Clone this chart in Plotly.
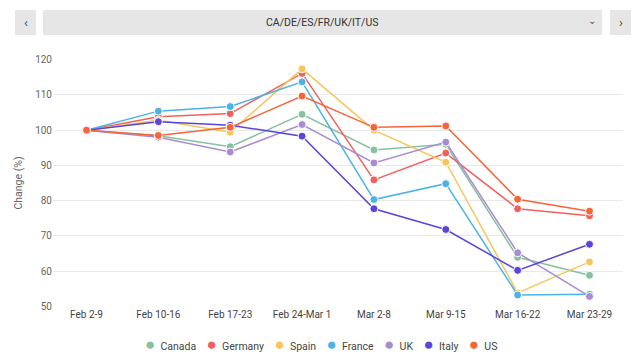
import plotly.graph_objects as go

weeks = ["Feb 2-9", "Feb 10-16", "Feb 17-23", "Feb 24-Mar 1", "Mar 2-8", "Mar 9-15", "Mar 16-22", "Mar 23-29"]

canada  = [100, 98.4, 95.3, 104.5, 94.4, 96.0, 63.9, 58.8]
germany = [100, 103.8, 104.7, 116.1, 85.9, 93.5, 77.7, 75.7]
spain   = [100, 102.8, 99.4, 117.4, 100.0, 90.9, 53.8, 62.6]
france  = [100, 105.4, 106.7, 113.7, 80.3, 84.8, 53.2, 53.4]
uk      = [100, 98.0, 93.8, 101.6, 90.7, 96.6, 65.2, 52.8]
italy   = [100, 102.4, 101.4, 98.3, 77.7, 71.8, 60.2, 67.6]
us      = [100, 98.5, 100.8, 109.7, 100.8, 101.2, 80.4, 77.0]

series_names = ["Canada", "Germany", "Spain", "France", "UK", "Italy", "US"]
series_values = [canada, germany, spain, france, uk, italy, us]
colors = ["#86c19f", "#f2605e", "#f6c65b", "#4db3e6", "#a98ccf", "#5b45d9", "#f7643a"]

y_ticks = [50, 60, 70, 80, 90, 100, 110, 120]
selector_label = "CA/DE/ES/FR/UK/IT/US"

fig = go.Figure()
for name, vals, col in zip(series_names, series_values, colors):
    fig.add_trace(go.Scatter(
        x=weeks, y=vals, name=name, mode="lines+markers",
        line=dict(color=col, width=1.5),
        marker=dict(color=col, size=8, line=dict(color="white", width=1)),
        showlegend=False,
    ))

W, H = 640, 361
L, R, T, B = 53, 17, 59, 54
pw, ph = W - L - R, H - T - B

def px(x):
    return (x - L) / pw

def py(y):
    return (H - B - y) / ph

shapes = []
for x0, x1 in [(15, 36), (43, 602), (610, 631)]:
    shapes.append(dict(type="rect", xref="paper", yref="paper",
                       x0=px(x0), x1=px(x1), y0=py(35), y1=py(10),
                       fillcolor="#e6e6e6", line=dict(width=0), layer="below"))

legend_text = "\u00a0\u00a0\u00a0\u00a0".join(
    f'<span style="color:{c};font-size:17px">●</span>\u00a0\u00a0{n}'
    for n, c in zip(series_names, colors)
)

annotations = [
    dict(text=selector_label, xref="paper", yref="paper", x=px(322), y=py(22.5),
         showarrow=False, font=dict(size=10.5, color="#333333"), xanchor="center", yanchor="middle"),
    dict(text="‹", xref="paper", yref="paper", x=px(25.5), y=py(22),
         showarrow=False, font=dict(size=13, color="#444444"), xanchor="center", yanchor="middle"),
    dict(text="›", xref="paper", yref="paper", x=px(620.5), y=py(22),
         showarrow=False, font=dict(size=13, color="#444444"), xanchor="center", yanchor="middle"),
    dict(text="⌄", xref="paper", yref="paper", x=px(592), y=py(20),
         showarrow=False, font=dict(size=10, color="#555555"), xanchor="center", yanchor="middle"),
    dict(text=legend_text, xref="paper", yref="paper", x=px(321), y=py(344),
         showarrow=False, font=dict(size=10.5, color="#444444"), xanchor="center", yanchor="middle"),
]

fig.update_layout(
    width=W, height=H,
    margin=dict(l=L, r=R, t=T, b=B, autoexpand=False),
    paper_bgcolor="white", plot_bgcolor="white",
    showlegend=False,
    font=dict(family="Roboto", size=10, color="#555555"),
    shapes=shapes, annotations=annotations,
    xaxis=dict(type="category", showgrid=False, zeroline=False, showline=False,
               automargin=False, ticks="", tickfont=dict(size=10, color="#444444")),
    yaxis=dict(range=[49.8, 120.2], tickvals=y_ticks, showgrid=True, automargin=False,
               gridcolor="#e9e9e9", gridwidth=1, zeroline=False, showline=False,
               ticks="", tickfont=dict(size=10, color="#666666"),
               title=dict(text="Change (%)", font=dict(size=10.5, color="#666666"), standoff=10)),
)

fig.write_html("out.html", config={"displayModeBar": False},
               post_script="document.body.style.margin='0';")
